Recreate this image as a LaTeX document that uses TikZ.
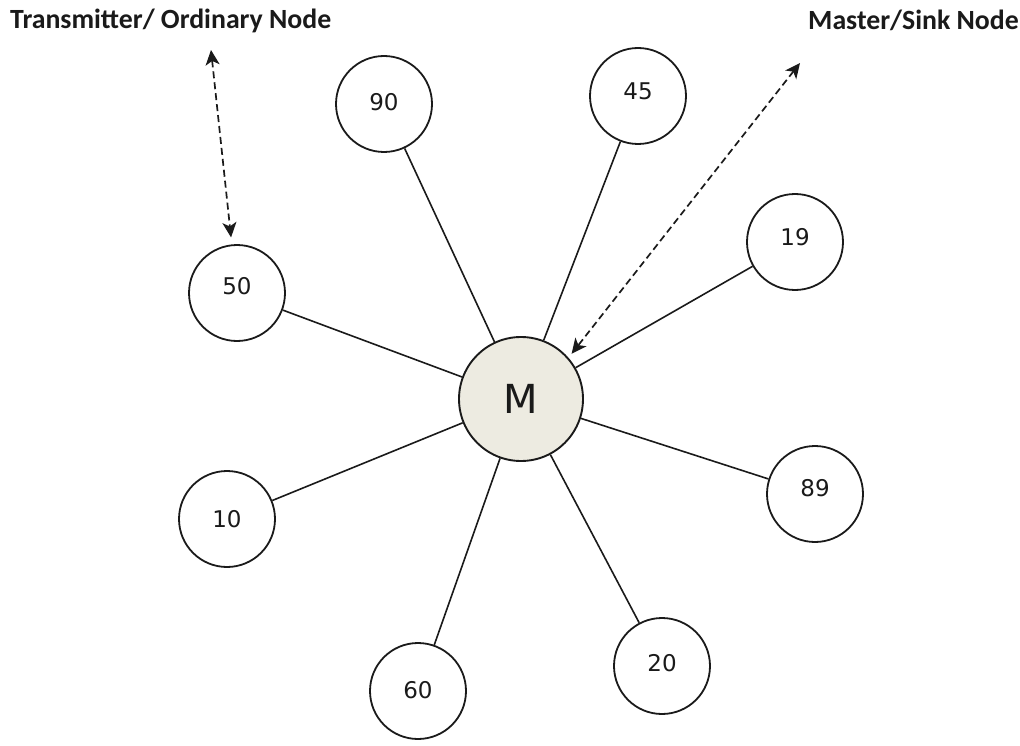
\documentclass[tikz,border=0pt]{standalone}
\usepackage{fontspec}
\setmainfont{DejaVu Sans}
\newfontfamily\captionfont{Carlito}
\usetikzlibrary{arrows.meta}
\definecolor{masterfill}{HTML}{EDEBE1}
\definecolor{ink}{HTML}{1A1A1A}
\begin{document}
\begin{tikzpicture}[x=1pt,y=-1pt,
  leaf/.style={circle,draw=ink,line width=1.8pt,minimum size=96pt,inner sep=0pt},
  num/.style={font=\fontsize{23}{23}\selectfont,text=ink,inner sep=0pt},
  master/.style={circle,draw=ink,line width=1.9pt,fill=masterfill,minimum size=124pt,inner sep=0pt,
    font=\fontsize{40}{40}\selectfont,text=ink},
  link/.style={draw=ink,line width=1.6pt},
  pointer/.style={draw=ink,line width=1.7pt,dash pattern=on 7pt off 4pt,
    {Stealth[length=15pt,width=14pt,inset=4pt]}-{Stealth[length=15pt,width=14pt,inset=4pt]}},
  caption/.style={font=\captionfont\bfseries\fontsize{27.8}{28}\selectfont,text=ink,inner sep=0pt,anchor=base west}
]
\useasboundingbox (0,0) rectangle (1020,746);

% sink in the middle
\node[master] (M) at (521,399) {M};

% ordinary nodes around it
\node[leaf,label={[num,yshift=2pt]center:90}] (n90) at (384,104) {};
\node[leaf,label={[num,yshift=5pt]center:45}] (n45) at (638,96) {};
\node[leaf,label={[num,yshift=5pt]center:19}] (n19) at (795,242) {};
\node[leaf,label={[num,yshift=7pt]center:50}] (n50) at (237,293) {};
\node[leaf,label={[num,yshift=0pt]center:10}] (n10) at (227,519) {};
\node[leaf,label={[num,yshift=1pt]center:60}] (n60) at (418,691) {};
\node[leaf,label={[num,yshift=3pt]center:20}] (n20) at (662,666) {};
\node[leaf,label={[num,yshift=6pt]center:89}] (n89) at (815,494) {};

% links to the sink
\foreach \n in {n90,n45,n19,n50,n10,n60,n20,n89}
  \draw[link] (M) -- (\n);

% captions and their pointers
\node[caption] (tcap) at (10,29) {Transmitter/ Ordinary Node};
\node[caption] (scap) at (808,30) {Master/Sink Node};

\coordinate (tpoint) at (211,50);
\coordinate (spoint) at (800,63);
\draw[pointer,shorten >=7pt] (tpoint) -- (n50);
\draw[pointer,shorten >=5pt] (spoint) -- (M.41);
\end{tikzpicture}
\end{document}
